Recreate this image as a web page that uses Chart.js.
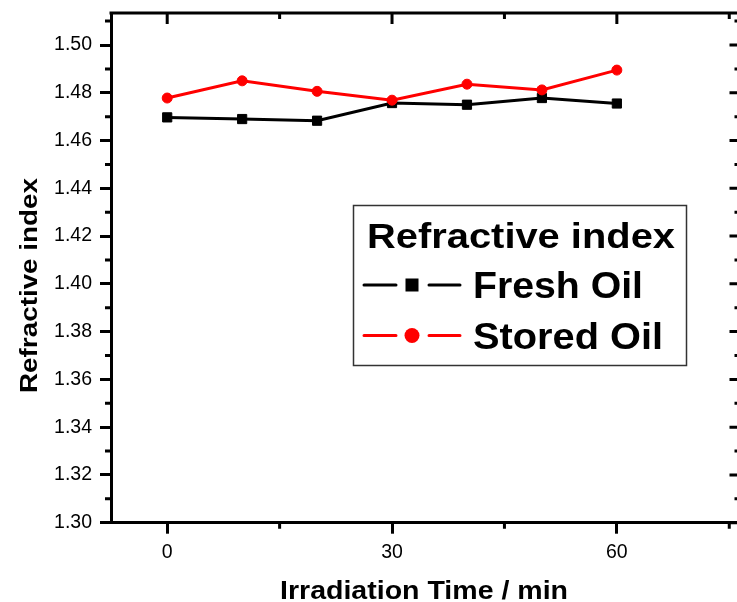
<!DOCTYPE html>
<html>
<head>
<meta charset="utf-8">
<script src="https://cdn.jsdelivr.net/npm/chart.js@4"></script>
<style>
  html, body { margin: 0; padding: 0; overflow: hidden; background: #fff; }
  #wrap { width: 748px; height: 602px; }
</style>
</head>
<body>
<div id="wrap"><canvas id="chart" width="748" height="602" style="width:748px;height:602px"></canvas></div>
<script>
// data
const irradiationTime = [0, 10, 20, 30, 40, 50, 60];
const freshOil = [1.4697, 1.4690, 1.4683, 1.4757, 1.4750, 1.4778, 1.4755];
const storedOil = [1.4778, 1.4850, 1.4806, 1.4769, 1.4836, 1.4812, 1.4895];
const seriesLabels = ['Fresh Oil', 'Stored Oil'];
const legendTitle = 'Refractive index';
const xTitle = 'Irradiation Time / min';
const yTitle = 'Refractive index';
const xMajorTicks = [0, 30, 60];
const xMinorTicks = [15, 45, 75];
const yMajorTicks = [1.30, 1.32, 1.34, 1.36, 1.38, 1.40, 1.42, 1.44, 1.46, 1.48, 1.50];
const yMinorTicks = [1.31, 1.33, 1.35, 1.37, 1.39, 1.41, 1.43, 1.45, 1.47, 1.49, 1.51];

const FONT = "'Liberation Sans', Arial, sans-serif";
Chart.defaults.font.family = FONT;
Chart.defaults.color = '#000';

// draw text squeezed/stretched to a given width (the original font runs wide)
function fitText(ctx, text, x, y, font, width, align) {
    ctx.save();
    ctx.font = font;
    const sx = width / ctx.measureText(text).width;
    ctx.translate(x, y);
    ctx.scale(sx, 1);
    ctx.textAlign = align;
    ctx.textBaseline = 'alphabetic';
    ctx.fillStyle = '#000';
    ctx.fillText(text, 0, 0);
    ctx.restore();
}

const framePlugin = {
    id: 'frame',
    afterDraw(chart) {
        const { ctx, chartArea: a, scales: { x, y } } = chart;
        ctx.save();
        ctx.strokeStyle = '#000';
        ctx.lineWidth = 3;

        // top and right axis lines
        ctx.beginPath();
        ctx.moveTo(a.left - 1.5, a.top);
        ctx.lineTo(a.right + 1.5, a.top);
        ctx.moveTo(a.right, a.top);
        ctx.lineTo(a.right, a.bottom);
        ctx.stroke();

        // inward ticks on top/right, minor ticks everywhere
        ctx.beginPath();
        const tick = (x1, y1, x2, y2) => { ctx.moveTo(x1, y1); ctx.lineTo(x2, y2); };
        xMajorTicks.forEach(v => {
            const px = x.getPixelForValue(v);
            tick(px, a.top, px, a.top + 11);
        });
        xMinorTicks.forEach(v => {
            const px = x.getPixelForValue(v);
            tick(px, a.top, px, a.top + 6);
            tick(px, a.bottom, px, a.bottom + 6);
        });
        yMajorTicks.forEach(v => {
            const py = y.getPixelForValue(v);
            tick(a.right, py, a.right - 11, py);
        });
        yMinorTicks.forEach(v => {
            const py = y.getPixelForValue(v);
            tick(a.right, py, a.right - 6, py);
            tick(a.left, py, a.left - 6, py);
        });
        ctx.stroke();

        // axis titles
        fitText(ctx, xTitle, 424, 599, 'bold 25px ' + FONT, 288, 'center');
        ctx.save();
        ctx.translate(36.5, 285.5);
        ctx.rotate(-Math.PI / 2);
        fitText(ctx, yTitle, 0, 0, 'bold 23px ' + FONT, 215, 'center');
        ctx.restore();

        // legend box
        ctx.lineWidth = 1.5;
        ctx.strokeStyle = '#333';
        ctx.strokeRect(353.5, 205.5, 333, 160);
        fitText(ctx, legendTitle, 367, 248, 'bold 35px ' + FONT, 308, 'left');

        const ds = chart.data.datasets;
        const rows = [285, 335.5];
        const widths = [170, 190];
        ds.forEach((d, i) => {
            const ly = rows[i];
            ctx.strokeStyle = d.borderColor;
            ctx.lineWidth = 3;
            ctx.lineCap = 'round';
            ctx.beginPath();
            ctx.moveTo(364, ly); ctx.lineTo(396, ly);
            ctx.moveTo(429, ly); ctx.lineTo(460, ly);
            ctx.stroke();
            ctx.fillStyle = d.backgroundColor;
            if (d.pointStyle === 'rect') {
                ctx.fillRect(412 - 6.5, ly - 6.5, 13, 13);
            } else {
                ctx.beginPath();
                ctx.arc(412, ly, 7.5, 0, Math.PI * 2);
                ctx.fill();
            }
            fitText(ctx, seriesLabels[i], 473, ly + 13, 'bold 36px ' + FONT, widths[i], 'left');
        });
        ctx.restore();
    }
};

new Chart(document.getElementById('chart'), {
    type: 'line',
    data: {
        datasets: [{
            label: seriesLabels[0],
            data: irradiationTime.map((t, i) => ({ x: t, y: freshOil[i] })),
            borderColor: '#000000',
            backgroundColor: '#000000',
            borderWidth: 3,
            pointStyle: 'rect',
            pointRadius: 6.5,
            pointBorderWidth: 1,
            order: 1,
        }, {
            label: seriesLabels[1],
            data: irradiationTime.map((t, i) => ({ x: t, y: storedOil[i] })),
            borderColor: '#ff0000',
            backgroundColor: '#ff0000',
            borderWidth: 3,
            pointStyle: 'circle',
            pointRadius: 5,
            pointBorderWidth: 1,
            order: 0,
        }],
    },
    options: {
        responsive: false,
        animation: false,
        layout: { padding: { top: 13, right: 5, left: 0, bottom: 0 } },
        plugins: { legend: { display: false }, tooltip: { enabled: false } },
        scales: {
            x: {
                type: 'linear',
                min: -7.5,
                max: 76.5,
                afterBuildTicks: s => { s.ticks = xMajorTicks.map(v => ({ value: v })); },
                afterFit: s => { s.height = 79.3; s.paddingLeft = 0; s.paddingRight = 0; },
                ticks: { autoSkip: false, maxRotation: 0, font: { size: 19.5 }, padding: 7, color: '#000', callback: v => String(v) },
                grid: { display: true, drawOnChartArea: false, tickLength: 11, tickWidth: 3, tickColor: '#000' },
                border: { width: 3, color: '#000' },
            },
            y: {
                type: 'linear',
                min: 1.30,
                max: 1.5134,
                afterBuildTicks: s => { s.ticks = yMajorTicks.map(v => ({ value: v })); },
                afterFit: s => { s.width = 111; s.paddingTop = 0; s.paddingBottom = 0; },
                ticks: { autoSkip: false, font: { size: 19.5 }, padding: 8, color: '#000', callback: v => v.toFixed(2) },
                grid: { display: true, drawOnChartArea: false, tickLength: 11, tickWidth: 3, tickColor: '#000' },
                border: { width: 3, color: '#000' },
            },
        },
    },
    plugins: [framePlugin],
});
</script>
</body>
</html>
